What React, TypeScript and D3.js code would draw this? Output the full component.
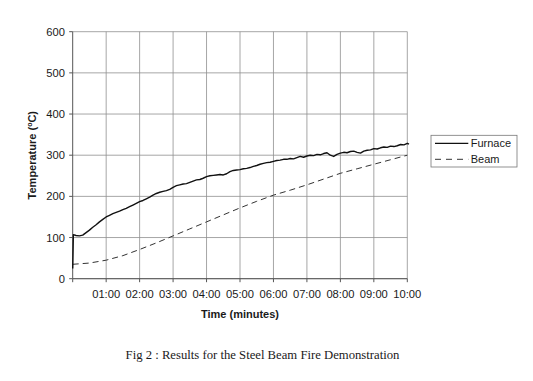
import React from "react";
import * as d3 from "d3";

const W = 533;
const H = 381;

const xTicks = [1, 2, 3, 4, 5, 6, 7, 8, 9, 10];
const xTickLabels = ["01:00", "02:00", "03:00", "04:00", "05:00", "06:00", "07:00", "08:00", "09:00", "10:00"];
const yTicks = [0, 100, 200, 300, 400, 500, 600];

const furnaceTime = [
  0, 0.02, 0.1, 0.2, 0.3, 0.4, 0.5, 0.6, 0.7, 0.8, 0.9,
  1.0, 1.1, 1.2, 1.3, 1.4, 1.5, 1.6, 1.7, 1.8, 1.9,
  2.0, 2.1, 2.2, 2.3, 2.4, 2.5, 2.6, 2.7, 2.8, 2.9,
  3.0, 3.1, 3.2, 3.3, 3.4, 3.5, 3.6, 3.7, 3.8, 3.9,
  4.0, 4.1, 4.2, 4.3, 4.4, 4.5, 4.6, 4.7, 4.8, 4.9,
  5.0, 5.1, 5.2, 5.3, 5.4, 5.5, 5.6, 5.7, 5.8, 5.9,
  6.0, 6.1, 6.2, 6.3, 6.4, 6.5, 6.6, 6.7, 6.8, 6.9,
  7.0, 7.1, 7.2, 7.3, 7.4, 7.5, 7.6, 7.7, 7.8, 7.9,
  8.0, 8.1, 8.2, 8.3, 8.4, 8.5, 8.6, 8.7, 8.8, 8.9,
  9.0, 9.1, 9.2, 9.3, 9.4, 9.5, 9.6, 9.7, 9.8, 9.9,
  10.0, 10.05,
];
const furnaceTemp = [
  25, 107, 105, 104, 106, 112, 118, 125, 131, 138, 144,
  150, 154, 158, 161, 164, 168, 171, 175, 179, 183,
  187, 190, 194, 198, 203, 207, 210, 212, 214, 217,
  222, 226, 228, 230, 231, 234, 237, 240, 241, 244,
  248, 250, 251, 252, 253, 252, 255, 260, 263, 264,
  265, 267, 268, 270, 273, 275, 278, 280, 282, 283,
  285, 287, 288, 290, 290, 292, 291, 294, 297, 295,
  298, 300, 299, 302, 301, 304, 306, 300, 297, 302,
  305, 307, 306, 309, 310, 307, 305, 310, 312, 313,
  316, 315, 318, 320, 319, 322, 321, 323, 326, 325,
  329, 327,
];

const beamTime = [0, 0.5, 1.0, 1.5, 2.0, 2.5, 3.0, 3.5, 4.0, 4.5, 5.0, 5.5, 6.0, 6.5, 7.0, 7.5, 8.0, 8.5, 9.0, 9.5, 10.0];
const beamTemp = [35, 38, 45, 56, 71, 87, 104, 121, 138, 155, 172, 188, 203, 215, 228, 242, 256, 267, 278, 289, 300];

const seriesNames = ["Furnace", "Beam"];

export default function App() {
  const left = 72.7, right = 407.3, top = 31.7, bottom = 278.7;
  const x = d3.scaleLinear().domain([0, 10]).range([left, right]);
  const y = d3.scaleLinear().domain([0, 600]).range([bottom, top]);
  const line = d3
    .line<[number, number]>()
    .x((d) => x(d[0]))
    .y((d) => y(d[1]));
  const furnace: [number, number][] = furnaceTime.map((t, i) => [t, furnaceTemp[i]]);
  const beam: [number, number][] = beamTime.map((t, i) => [t, beamTemp[i]]);
  const font = "Arial, 'Liberation Sans', sans-serif";
  const txt = "#1a1a1a";

  return (
    <svg
      width={W}
      height={H}
      style={{ position: "absolute", left: 0, top: 0, background: "#fff" }}
      fontFamily={font}
    >
      <rect x={0} y={0} width={W} height={H} fill="#fff" />
      {/* grid */}
      {yTicks.map((v) => (
        <line key={"gy" + v} x1={left} x2={right} y1={y(v)} y2={y(v)} stroke="#8f8f8f" strokeWidth={0.8} />
      ))}
      {xTicks.map((v) => (
        <line key={"gx" + v} x1={x(v)} x2={x(v)} y1={top} y2={bottom} stroke="#8f8f8f" strokeWidth={0.8} />
      ))}
      {/* axes */}
      <line x1={left} x2={left} y1={top} y2={bottom} stroke="#555" strokeWidth={1} />
      <line x1={left} x2={right} y1={bottom} y2={bottom} stroke="#555" strokeWidth={1} />
      {yTicks.map((v) => (
        <g key={"yt" + v}>
          <line x1={left - 3.5} x2={left} y1={y(v)} y2={y(v)} stroke="#555" strokeWidth={1} />
          <text x={65} y={y(v) + 4} textAnchor="end" fontSize={11.2} fill={txt}>
            {v}
          </text>
        </g>
      ))}
      {[0, ...xTicks].map((v) => (
        <line key={"xt" + v} x1={x(v)} x2={x(v)} y1={bottom} y2={bottom + 3.5} stroke="#555" strokeWidth={1} />
      ))}
      {xTicks.map((v, i) => (
        <text key={"xl" + v} x={x(v)} y={298} textAnchor="middle" fontSize={11.2} fill={txt}>
          {xTickLabels[i]}
        </text>
      ))}
      {/* axis titles */}
      <text x={(left + right) / 2} y={318} textAnchor="middle" fontSize={11} fontWeight="bold" fill={txt}>
        Time (minutes)
      </text>
      <text
        transform={`translate(36,${(top + bottom) / 2}) rotate(-90)`}
        textAnchor="middle"
        fontSize={11}
        fontWeight="bold"
        fill={txt}
      >
        Temperature (<tspan fontSize={7} dy={-4}>o</tspan>
        <tspan dy={4}>C)</tspan>
      </text>
      {/* series */}
      <path d={line(beam) || ""} fill="none" stroke="#333" strokeWidth={1} strokeDasharray="6,4" />
      <path d={line(furnace) || ""} fill="none" stroke="#111" strokeWidth={1.4} strokeLinejoin="round" />
      {/* legend */}
      <rect x={431} y={135.3} width={86} height={31.7} fill="#fff" stroke="#777" strokeWidth={0.8} />
      <line x1={435} x2={468.3} y1={143.3} y2={143.3} stroke="#111" strokeWidth={1.3} />
      <text x={470.7} y={147.3} fontSize={11} fill={txt}>
        {seriesNames[0]}
      </text>
      <line x1={435} x2={468.3} y1={159.3} y2={159.3} stroke="#333" strokeWidth={1} strokeDasharray="6,5" />
      <text x={470.7} y={163.3} fontSize={11} fill={txt}>
        {seriesNames[1]}
      </text>
      {/* caption */}
      <text x={262.5} y={359} textAnchor="middle" fontSize={12.7} fontFamily="'Liberation Serif', 'Times New Roman', serif" fill={txt}>
        Fig 2 : Results for the Steel Beam Fire Demonstration
      </text>
    </svg>
  );
}
